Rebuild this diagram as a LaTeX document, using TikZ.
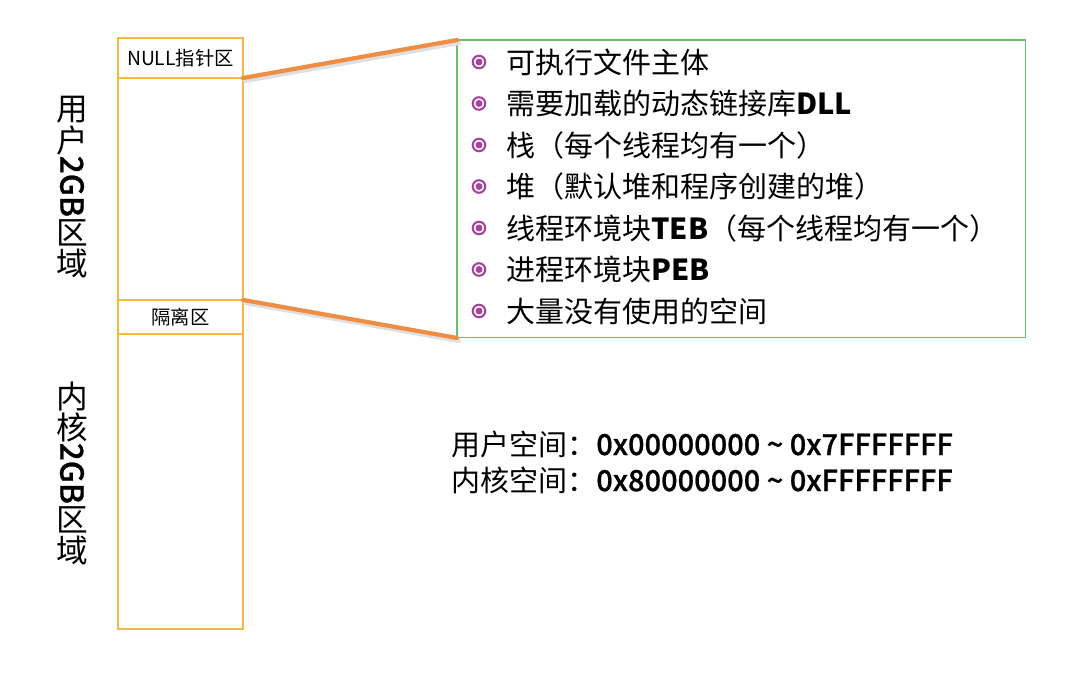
\documentclass[tikz,border=0pt]{standalone}
\usepackage{fontspec}
\setmainfont{Noto Sans CJK SC}
\newfontfamily\medfont[FakeBold=0.8]{Noto Sans CJK SC Medium}
\usepackage{tikz}
\usetikzlibrary{positioning,calc}
\definecolor{zoneline}{HTML}{F5B942}
\definecolor{linkline}{HTML}{EE8E45}
\definecolor{boxline}{HTML}{6CBF6C}
\definecolor{dotcol}{HTML}{A8429E}

\tikzset{
  zone/.style={draw=zoneline, line width=1.1pt, minimum width=2.5cm, inner sep=0pt, outer sep=0pt, font=\fontsize{11}{13}\selectfont},
  sidechar/.style={inner sep=0pt, minimum height=0.6cm, font=\fontsize{18}{18}\selectfont},
  itemdot/.style={circle, draw=dotcol, line width=1.2pt, minimum size=0.25cm, inner sep=0pt},
  itemtext/.style={anchor=west, inner sep=0pt, font=\fontsize{16.5}{18}\selectfont}
}

\begin{document}
\begin{tikzpicture}[x=0.02cm, y=-0.02cm]
			\useasboundingbox (0,0) rectangle (1080,677);

			% --- Columna de memoria ---
			\node[zone, minimum height=0.8cm, anchor=north west] (nullzone) at (118,38) {NULL指针区};
			\node[zone, minimum height=4.44cm, below=0pt of nullzone] (userzone) {};
			\node[zone, minimum height=0.68cm, below=0pt of userzone] (gapzone) {隔离区};
			\node[zone, minimum height=5.9cm, below=0pt of gapzone] (kernelzone) {};

			% --- Etiquetas verticales ---
			\node[sidechar, anchor=north] (userA) at (72,94) {用};
			\node[sidechar, below=0pt of userA] (userB) {户};
			\node[sidechar, rotate=-90, anchor=west, minimum height=0pt] (userC) at (userB.south) {\medfont 2GB};
			\node[sidechar, below=0pt of userC.east] (userD) {区};
			\node[sidechar, below=0pt of userD] (userE) {域};

			\node[sidechar, anchor=north] (kernelA) at (72,381) {内};
			\node[sidechar, below=0pt of kernelA] (kernelB) {核};
			\node[sidechar, rotate=-90, anchor=west, minimum height=0pt] (kernelC) at (kernelB.south) {\medfont 2GB};
			\node[sidechar, below=0pt of kernelC.east] (kernelD) {区};
			\node[sidechar, below=0pt of kernelD] (kernelE) {域};

			% --- Caja de contenido ---
			\node[draw=boxline, line width=0.6pt, minimum width=11.38cm, minimum height=5.96cm, anchor=north west, inner sep=0pt, outer sep=0pt] (listbox) at (457,40) {};

			\foreach \txt [count=\i] in {可执行文件主体, 需要加载的动态链接库\textbf{DLL}, 栈（每个线程均有一个）, 堆（默认堆和程序创建的堆）, 线程环境块\textbf{TEB}（每个线程均有一个）, 进程环境块\textbf{PEB}, 大量没有使用的空间}{
					\node[itemdot] (dot\i) at (479, {62+41.5*(\i-1)}) {};
					\fill[dotcol] (dot\i.center) circle (0.07cm);
					\node[itemtext] (item\i) at (506, {62+41.5*(\i-1)}) {\txt};
				}

			% Líneas de enlace
			\draw[gray!25, line width=2.4pt, line cap=round] ($(nullzone.south east)+(2,3)$) -- ($(listbox.north west)+(2,3)$);
			\draw[gray!25, line width=2.4pt, line cap=round] ($(gapzone.north east)+(2,3)$) -- ($(listbox.south west)+(2,3)$);
			\draw[linkline, line width=2.4pt, line cap=round] (nullzone.south east) -- (listbox.north west);
			\draw[linkline, line width=2.4pt, line cap=round] (gapzone.north east) -- (listbox.south west);

			% --- Rangos de direcciones ---
			\node[itemtext] (userrange) at (451,444) {用户空间：{\medfont 0x00000000 \char`\~{} 0x7FFFFFFF}};
			\node[itemtext] (kernelrange) at (451,480) {内核空间：{\medfont 0x80000000 \char`\~{} 0xFFFFFFFF}};
		\end{tikzpicture}
\end{document}
